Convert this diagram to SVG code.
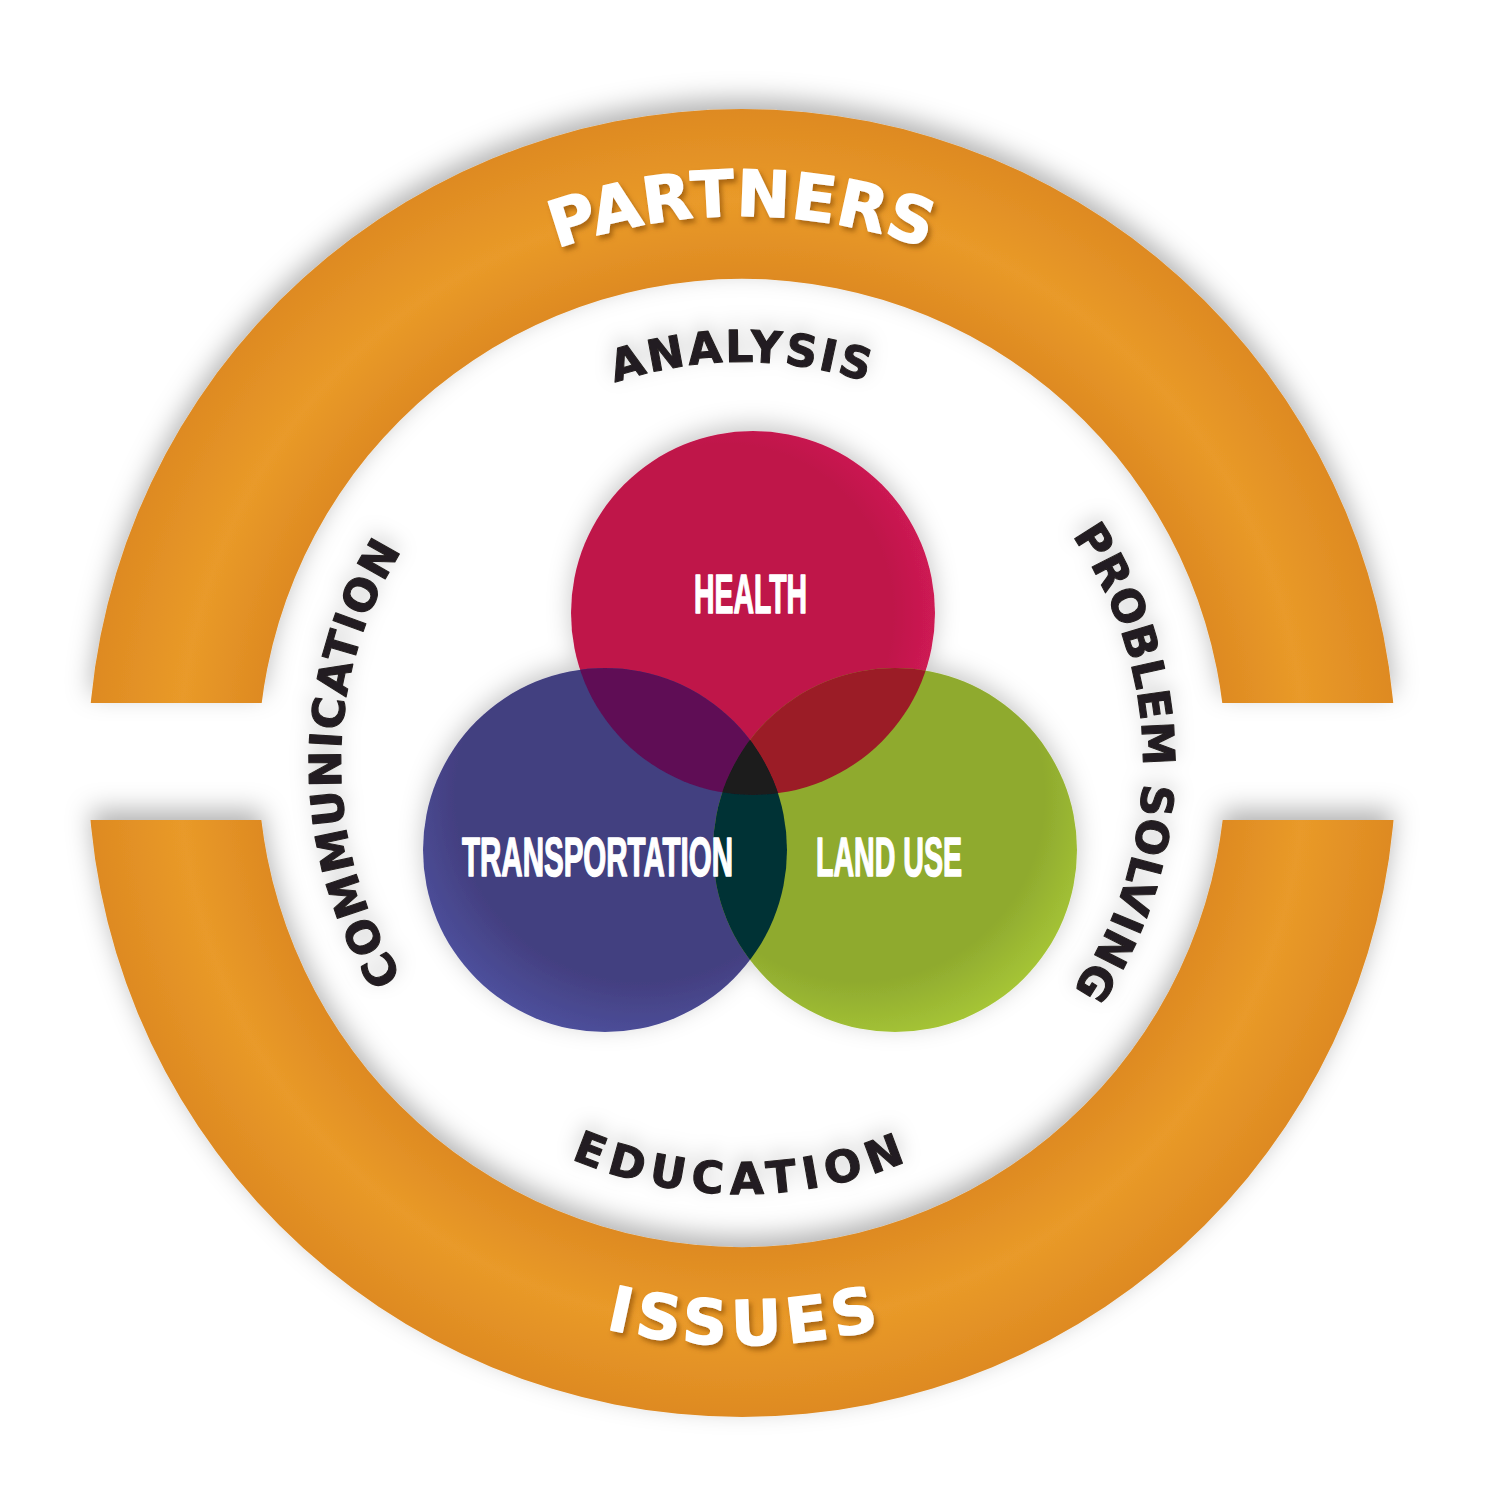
<svg xmlns="http://www.w3.org/2000/svg" width="1500" height="1500" viewBox="0 0 1500 1500">
  <style>
    .outer-label { font-family: "DejaVu Sans", "Liberation Sans", sans-serif; font-weight: bold; fill: #ffffff; stroke: #ffffff; stroke-width: 1.4px; stroke-linejoin: round; }
    .inner-label { font-family: "DejaVu Sans", "Liberation Sans", sans-serif; font-weight: bold; fill: #231F20; stroke: #231F20; stroke-width: 1.1px; stroke-linejoin: round; font-size: 44px; }
    .venn-label { font-family: "Liberation Sans", Arial, sans-serif; font-weight: bold; fill: #ffffff; stroke: #ffffff; stroke-width: 1.6px; stroke-linejoin: round; font-size: 56px; }
  </style>
  <defs>
    <radialGradient id="ringGrad" gradientUnits="userSpaceOnUse" cx="742" cy="763" r="654">
      <stop offset="0.74" stop-color="#DE8A22"/>
      <stop offset="0.86" stop-color="#E99A29"/>
      <stop offset="1" stop-color="#DE8A22"/>
    </radialGradient>
    <radialGradient id="healthGrad" cx="0.42" cy="0.5" r="0.62">
      <stop offset="0.75" stop-color="#BF174A"/>
      <stop offset="1" stop-color="#D31B57"/>
    </radialGradient>
    <radialGradient id="transGrad" cx="0.6" cy="0.35" r="0.75">
      <stop offset="0.68" stop-color="#433F80"/>
      <stop offset="1" stop-color="#5257A8"/>
    </radialGradient>
    <radialGradient id="landGrad" cx="0.4" cy="0.35" r="0.75">
      <stop offset="0.68" stop-color="#8FAA2E"/>
      <stop offset="1" stop-color="#AFD03A"/>
    </radialGradient>
    <filter id="ringShadow" x="-15%" y="-15%" width="130%" height="130%">
      <feDropShadow dx="0" dy="-10" stdDeviation="13" flood-color="#000000" flood-opacity="0.3"/>
    </filter>
    <filter id="circleShadow" x="-20%" y="-20%" width="140%" height="140%">
      <feDropShadow dx="0" dy="-6" stdDeviation="12" flood-color="#000000" flood-opacity="0.22"/>
    </filter>
    <filter id="textHalo" x="-20%" y="-40%" width="140%" height="180%">
      <feDropShadow dx="0" dy="-6" stdDeviation="10" flood-color="#000000" flood-opacity="0.18"/>
    </filter>
    <filter id="whiteTextShadow" x="-10%" y="-30%" width="120%" height="160%">
      <feDropShadow dx="3" dy="4" stdDeviation="2.5" flood-color="#7A3C00" flood-opacity="0.55"/>
    </filter>
    <clipPath id="clipTopHalf"><rect x="0" y="0" width="1500" height="703"/></clipPath>
    <clipPath id="clipBottomHalf"><rect x="0" y="820" width="1500" height="680"/></clipPath>
    <clipPath id="clipH"><circle cx="753" cy="613" r="182"/></clipPath>
    <clipPath id="clipT"><circle cx="605" cy="850" r="182"/></clipPath>
    <path id="annulus" fill-rule="evenodd" d="M 88 763 A 654 654 0 1 0 1396 763 A 654 654 0 1 0 88 763 Z M 258 763 A 484 484 0 1 0 1226 763 A 484 484 0 1 0 258 763 Z"/>
    <path id="arcPartners" d="M 268.3 489.5 A 547 547 0 0 1 1215.7 489.5"/>
    <path id="arcIssues" d="M 238 1054 A 582 582 0 0 0 1246 1054"/>
    <path id="arcAnalysis" d="M 394.7 562.5 A 401 401 0 0 1 1089.3 562.5"/>
    <path id="arcEducation" d="M 368.7 978.5 A 431 431 0 0 0 1115.3 978.5"/>
    <path id="arcCommunication" d="M 541.5 1110.3 A 401 401 0 0 1 541.5 415.7"/>
    <path id="arcProblem" d="M 942.5 415.7 A 401 401 0 0 1 942.5 1110.3"/>
  </defs>

  <rect x="0" y="0" width="1500" height="1500" fill="#ffffff"/>

  <g id="ring-top" filter="url(#ringShadow)">
    <use href="#annulus" fill="url(#ringGrad)" clip-path="url(#clipTopHalf)"/>
  </g>
  <g id="ring-bottom" filter="url(#ringShadow)">
    <use href="#annulus" fill="url(#ringGrad)" clip-path="url(#clipBottomHalf)"/>
  </g>

  <g id="label-partners" filter="url(#whiteTextShadow)">
    <text class="outer-label" font-size="64" letter-spacing="0.5"><textPath href="#arcPartners" startOffset="50%" text-anchor="middle">PARTNERS</textPath></text>
  </g>
  <g id="label-issues" filter="url(#whiteTextShadow)">
    <text class="outer-label" font-size="62" letter-spacing="6"><textPath href="#arcIssues" startOffset="50.3%" text-anchor="middle">ISSUES</textPath></text>
  </g>

  <g id="label-analysis" filter="url(#textHalo)">
    <text class="inner-label" letter-spacing="2.6"><textPath href="#arcAnalysis" startOffset="50%" text-anchor="middle">ANALYSIS</textPath></text>
  </g>
  <g id="label-education" filter="url(#textHalo)">
    <text class="inner-label" letter-spacing="7.3"><textPath href="#arcEducation" startOffset="50%" text-anchor="middle">EDUCATION</textPath></text>
  </g>
  <g id="label-communication" filter="url(#textHalo)">
    <text class="inner-label" letter-spacing="1.6"><textPath href="#arcCommunication" startOffset="50%" text-anchor="middle">COMMUNICATION</textPath></text>
  </g>
  <g id="label-problem-solving" filter="url(#textHalo)">
    <text class="inner-label" letter-spacing="1.0"><textPath href="#arcProblem" startOffset="50%" text-anchor="middle">PROBLEM SOLVING</textPath></text>
  </g>

  <g id="venn" filter="url(#circleShadow)">
    <g id="circle-health">
      <circle cx="753" cy="613" r="182" fill="url(#healthGrad)"/>
    </g>
    <g id="circle-transportation">
      <circle cx="605" cy="850" r="182" fill="url(#transGrad)"/>
    </g>
    <g id="circle-landuse">
      <circle cx="895" cy="850" r="182" fill="url(#landGrad)"/>
    </g>
    <g id="overlaps">
      <g clip-path="url(#clipH)"><circle cx="605" cy="850" r="182" fill="#5E0E55"/></g>
      <g clip-path="url(#clipH)"><circle cx="895" cy="850" r="182" fill="#9B1A26"/></g>
      <g clip-path="url(#clipT)"><circle cx="895" cy="850" r="182" fill="#003035"/></g>
      <g clip-path="url(#clipH)"><g clip-path="url(#clipT)"><circle cx="895" cy="850" r="182" fill="#1E1A1D"/></g></g>
    </g>
  </g>

  <g id="venn-labels">
    <text class="venn-label" transform="translate(694 613) scale(0.5 1)" x="0" y="0" textLength="226" lengthAdjust="spacingAndGlyphs">HEALTH</text>
    <text class="venn-label" transform="translate(462 876) scale(0.5 1)" x="0" y="0" textLength="542" lengthAdjust="spacingAndGlyphs">TRANSPORTATION</text>
    <text class="venn-label" transform="translate(816 876) scale(0.5 1)" x="0" y="0" textLength="292" lengthAdjust="spacingAndGlyphs">LAND USE</text>
  </g>

  <g id="connectors"/>
</svg>
